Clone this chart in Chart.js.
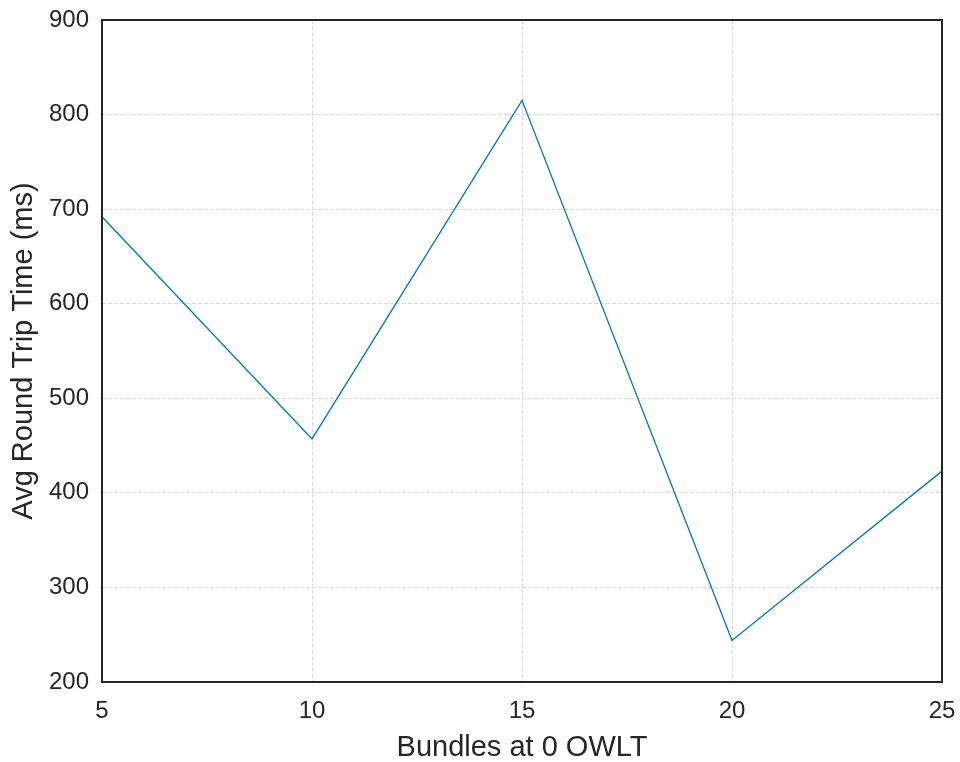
<!DOCTYPE html>
<html>
<head>
<meta charset="utf-8">
<script src="https://cdn.jsdelivr.net/npm/chart.js@4"></script>
<style>
  html, body { margin: 0; padding: 0; background: #fff; }
  #wrap { width: 960px; height: 762px; }
</style>
</head>
<body>
<div id="wrap"><canvas id="rttChart" width="960" height="762"></canvas></div>
<script>
// data
const bundles = [5, 10, 15, 20, 25];
const avgRtt = [692, 457, 815, 244, 423];
const xTicks = [5, 10, 15, 20, 25];
const yTicks = [200, 300, 400, 500, 600, 700, 800, 900];

const FONT = "'Liberation Sans', Arial, Helvetica, sans-serif";
const INK = "#262626";
const GRID = "#d9d9d9";

// box round the plot area, like the original frame
const framePlugin = {
  id: "frame",
  afterDraw(chart) {
    const a = chart.chartArea;
    const c = chart.ctx;
    c.save();
    c.strokeStyle = INK;
    c.lineWidth = 2;
    c.strokeRect(a.left, a.top, a.right - a.left, a.bottom - a.top);
    c.restore();
  }
};

const ctx = document.getElementById("rttChart").getContext("2d");
new Chart(ctx, {
  type: "line",
  data: {
    datasets: [{
      data: bundles.map((b, i) => ({ x: b, y: avgRtt[i] })),
      borderColor: "#0072BD",
      borderWidth: 1.3,
      pointRadius: 0,
      tension: 0,
      fill: false,
    }]
  },
  options: {
    animation: false,
    responsive: false,
    layout: { padding: { left: 0, right: 18, top: 20, bottom: 0 } },
    plugins: { legend: { display: false }, tooltip: { enabled: false } },
    scales: {
      x: {
        type: "linear",
        min: 5, max: 25,
        afterBuildTicks: (s) => { s.ticks = xTicks.map(v => ({ value: v })); },
        afterFit: (s) => { s.height = 80; s.paddingLeft = 0; s.paddingRight = 0; },
        border: { display: false, dash: [4, 2] },
        grid: { color: GRID, lineWidth: 1, drawTicks: false },
        ticks: { color: INK, font: { family: FONT, size: 24 }, padding: 15, maxRotation: 0 },
        title: { display: true, text: "Bundles at 0 OWLT", color: INK,
                 font: { family: FONT, size: 29, lineHeight: 1 }, padding: { top: 0, bottom: 0 } },
      },
      y: {
        min: 200, max: 900,
        afterBuildTicks: (s) => { s.ticks = yTicks.map(v => ({ value: v })); },
        afterFit: (s) => { s.width = 102; s.paddingTop = 0; s.paddingBottom = 0; },
        border: { display: false, dash: [4, 2] },
        grid: { color: GRID, lineWidth: 1, drawTicks: false },
        ticks: { color: INK, font: { family: FONT, size: 24 }, padding: 13 },
        title: { display: true, text: "Avg Round Trip Time (ms)", color: INK,
                 font: { family: FONT, size: 29, lineHeight: 1 }, padding: { top: 9, bottom: 0 } },
      }
    }
  },
  plugins: [framePlugin]
});
</script>
</body>
</html>
